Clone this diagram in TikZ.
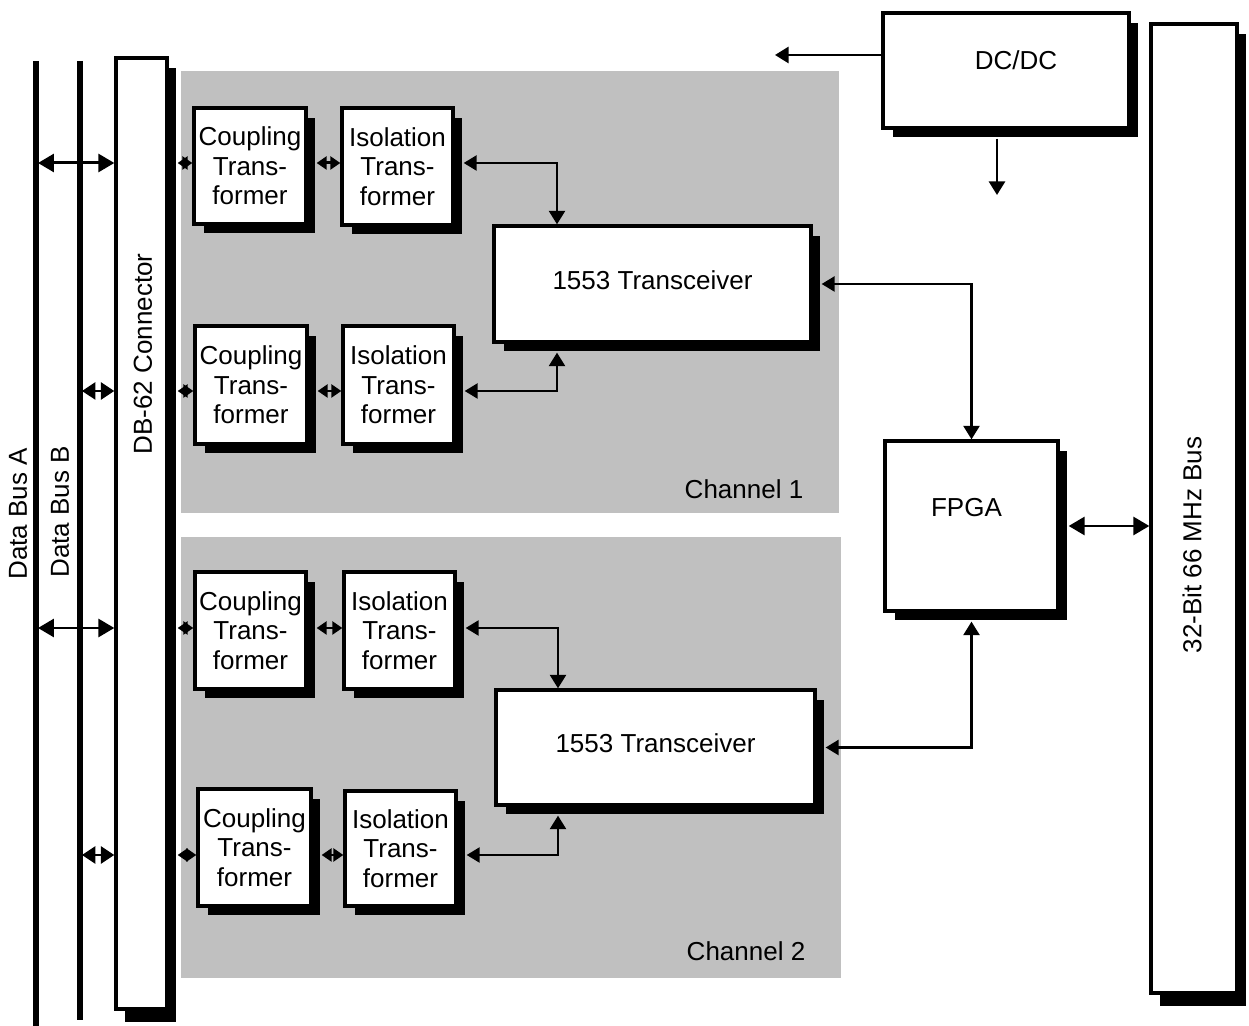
\documentclass[tikz,border=0pt]{standalone}
\usepackage{fontspec}
\setmainfont{Liberation Sans}
\usetikzlibrary{arrows.meta,calc,shadows}
\definecolor{panelgray}{RGB}{192,192,192}
\begin{document}
\begin{tikzpicture}[x=0.02cm,y=-0.02cm,
  every node/.style={font=\fontsize{14.8}{16.8}\selectfont},
  blk/.style={draw,line width=1.9pt,fill=white,inner sep=0pt,align=center,
    drop shadow={shadow xshift=0.19cm,shadow yshift=-0.19cm,opacity=1,fill=black}},
  tallblk/.style={blk,drop shadow={shadow xshift=0.18cm,shadow yshift=-0.26cm,opacity=1,fill=black}},
  busline/.style={line width=2.9pt},
  bigarr/.style={line width=1.7pt,{Triangle[length=0.32cm,width=0.36cm]}-{Triangle[length=0.32cm,width=0.36cm]}},
  midarr/.style={line width=1.7pt,{Triangle[length=0.27cm,width=0.34cm]}-{Triangle[length=0.27cm,width=0.34cm]}},
  smallarr/.style={line width=1.7pt,{Triangle[length=0.2cm,width=0.26cm]}-{Triangle[length=0.2cm,width=0.26cm]}},
  arr/.style={line width=1.4pt,{Triangle[length=0.26cm,width=0.3cm]}-{Triangle[length=0.27cm,width=0.32cm]}},
  onearr/.style={line width=1.4pt,-{Triangle[length=0.27cm,width=0.32cm]}}]
\useasboundingbox (0,0) rectangle (1249,1026);
% channel panels
\fill[panelgray] (181,71) rectangle (839,513);
\fill[panelgray] (181,537) rectangle (841,978);
% data buses
\coordinate (busAtop) at (36,61);
\coordinate (busAbot) at (36,1026);
\coordinate (busBtop) at (80,61);
\coordinate (busBbot) at (80,1020);
\draw[busline] (busAtop) -- (busAbot);
\draw[busline] (busBtop) -- (busBbot);
\node[rotate=90] (busAlbl) at (18,514) {Data Bus A};
\node[rotate=90] (busBlbl) at (60,512) {Data Bus B};
% rows of the links
\coordinate (r1) at (0,163);
\coordinate (r2) at (0,391);
\coordinate (r3) at (0,628);
\coordinate (r4) at (0,855);
\coordinate (k1) at (557,0);
\coordinate (k2) at (558,0);
% boxes
\node[tallblk,minimum width=1.02cm,minimum height=19.02cm] (db62) at (141.5,533.5) {};
\node[rotate=90] (db62lbl) at (143,354) {DB-62 Connector};
\node[tallblk,minimum width=1.72cm,minimum height=19.38cm] (bus32) at (1194,508.5) {};
\node[rotate=90] (bus32lbl) at (1192,545) {32-Bit 66 MHz Bus};
\node[blk,minimum width=2.24cm,minimum height=2.32cm] (cpl1a) at (250,166) {Coupling\\Trans-\\former};
\node[blk,minimum width=2.22cm,minimum height=2.34cm] (iso1a) at (397.5,166.5) {Isolation\\Trans-\\former};
\node[blk,minimum width=2.24cm,minimum height=2.36cm] (cpl1b) at (251,385) {Coupling\\Trans-\\former};
\node[blk,minimum width=2.22cm,minimum height=2.36cm] (iso1b) at (398.5,385) {Isolation\\Trans-\\former};
\node[blk,minimum width=6.34cm,minimum height=2.32cm,text depth=0.16cm] (xcv1) at (652.5,284) {1553 Transceiver};
\node[blk,minimum width=2.22cm,minimum height=2.34cm] (cpl2a) at (250.5,630.5) {Coupling\\Trans-\\former};
\node[blk,minimum width=2.22cm,minimum height=2.34cm] (iso2a) at (399.5,630.5) {Isolation\\Trans-\\former};
\node[blk,minimum width=6.38cm,minimum height=2.3cm,text depth=0.16cm] (xcv2) at (655.5,747.5) {1553 Transceiver};
\node[blk,minimum width=2.26cm,minimum height=2.34cm] (cpl2b) at (254.5,847.5) {Coupling\\Trans-\\former};
\node[blk,minimum width=2.22cm,minimum height=2.3cm] (iso2b) at (400.5,848.5) {Isolation\\Trans-\\former};
\node[blk,minimum width=4.92cm,minimum height=2.3cm,label={[yshift=0.2cm,xshift=0.2cm]center:DC/DC}] (dcdc) at (1006,70.5) {};
\node[blk,minimum width=3.46cm,minimum height=3.4cm,label={[yshift=0.36cm,xshift=-0.1cm]center:FPGA}] (fpga) at (971.5,526) {};
\node (ch1lbl) at (744,489) {Channel 1};
\node (ch2lbl) at (746,951) {Channel 2};
% bus to connector
\draw[bigarr] ($(busAtop |- r1)+(2,0)$) -- (db62.west |- r1);
\draw[midarr] ($(busBtop |- r2)+(2,0)$) -- (db62.west |- r2);
\draw[bigarr] ($(busAtop |- r3)+(2,0)$) -- (db62.west |- r3);
\draw[midarr] ($(busBtop |- r4)+(2,0)$) -- (db62.west |- r4);
% connector to transformers
\foreach \c/\i/\r in {cpl1a/iso1a/r1,cpl1b/iso1b/r2,cpl2a/iso2a/r3,cpl2b/iso2b/r4}{
  \draw[smallarr] ($(db62.east |- \r)+(9,0)$) -- (\c.west |- \r);
  \draw[smallarr] ($(\c.east |- \r)+(9,0)$) -- (\i.west |- \r);
}
% transformers to transceivers
\draw[arr] ($(iso1a.east |- r1)+(9,0)$) -| (k1 |- xcv1.north);
\draw[arr] ($(iso1b.east |- r2)+(9,0)$) -| ($(k1 |- xcv1.south)+(0,9)$);
\draw[arr] ($(iso2a.east |- r3)+(9,0)$) -| (k2 |- xcv2.north);
\draw[arr] ($(iso2b.east |- r4)+(9,0)$) -| ($(k2 |- xcv2.south)+(0,9)$);
% transceivers to fpga
\draw[arr] ($(xcv1.east)+(9,0)$) -| (fpga.north);
\draw[arr] ($(xcv2.east)+(9,0)$) -| ($(fpga.south)+(0,9)$);
\draw[bigarr] ($(fpga.east)+(9,0)$) -- (bus32.west |- fpga.east);
% power
\coordinate (pwrL) at (775,55);
\coordinate (pwrD) at (997,195);
\draw[onearr] (dcdc.west |- pwrL) -- (pwrL);
\draw[onearr] ($(dcdc.south -| pwrD)+(0,9)$) -- (pwrD);
\end{tikzpicture}
\end{document}
